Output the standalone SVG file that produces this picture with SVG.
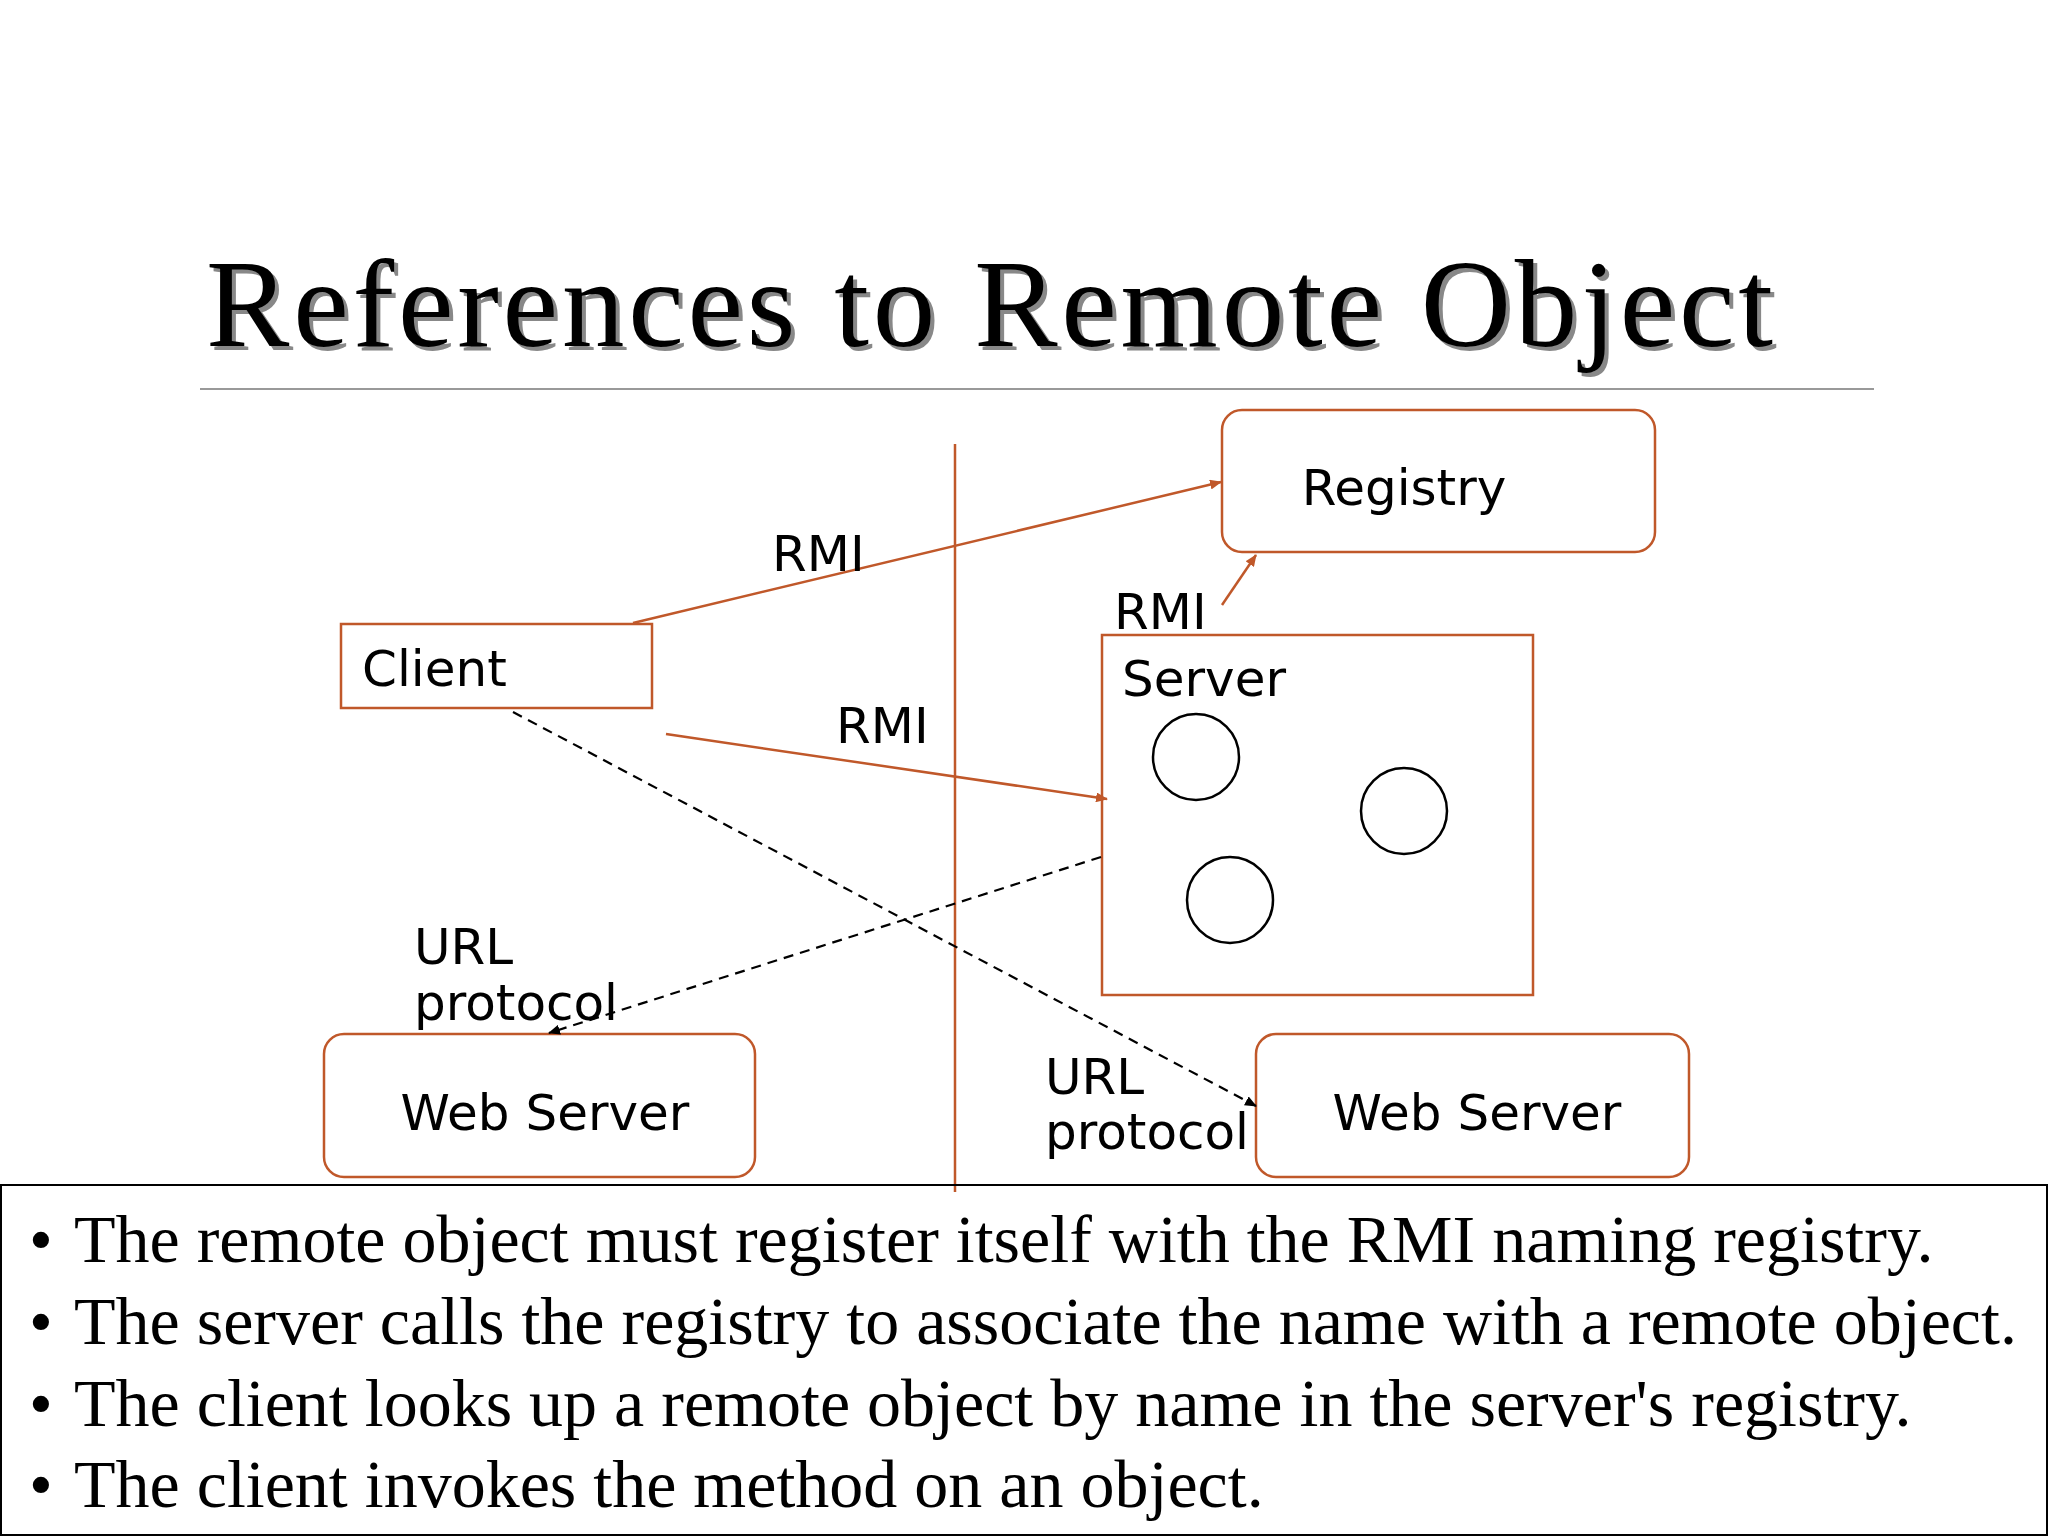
<svg xmlns="http://www.w3.org/2000/svg" width="2048" height="1536" viewBox="0 0 2048 1536">
<style>
.box{fill:none;stroke:#C0582A;stroke-width:2.5}
.lbl{font-family:"DejaVu Sans",Verdana,sans-serif;font-size:50px;fill:#000}
.bul{font-family:"Liberation Serif","Times New Roman",serif;font-size:68px;fill:#000}
.or{stroke:#C0582A;stroke-width:2.5;fill:none}
.dash{stroke:#000;stroke-width:2.2;stroke-dasharray:10,7;fill:none}
.c{fill:none;stroke:#000;stroke-width:2.5}
</style>
<defs>
<marker id="ao" markerWidth="12" markerHeight="10" refX="11" refY="5" orient="auto" markerUnits="userSpaceOnUse" viewBox="0 0 12 10"><path d="M0,0 L12,5 L0,10 z" fill="#C0582A"/></marker>
<marker id="ak" markerWidth="12" markerHeight="10" refX="11" refY="5" orient="auto" markerUnits="userSpaceOnUse" viewBox="0 0 12 10"><path d="M0,0 L12,5 L0,10 z" fill="#000"/></marker>
</defs>
<rect width="2048" height="1536" fill="#fff"/>
<text x="206" y="346" font-family="Liberation Serif,serif" font-size="125" fill="#888" textLength="1567" transform="translate(4,4)">References to Remote Object</text>
<text x="206" y="346" font-family="Liberation Serif,serif" font-size="125" fill="#000" textLength="1567">References to Remote Object</text>
<line x1="200" y1="389" x2="1874" y2="389" stroke="#999" stroke-width="2"/>
<line x1="955" y1="444" x2="955" y2="1192" class="or"/>
<g id="registry"><rect x="1222" y="410" width="433" height="142" rx="20" class="box"/><text x="1404" y="505" class="lbl" text-anchor="middle">Registry</text></g>
<g id="client"><rect x="341" y="624" width="311" height="84" class="box"/><text x="362" y="686" class="lbl">Client</text></g>
<g id="server"><rect x="1102" y="635" width="431" height="360" class="box"/><text x="1122" y="696" class="lbl">Server</text>
<circle cx="1196" cy="757" r="43" class="c"/><circle cx="1404" cy="811" r="43" class="c"/><circle cx="1230" cy="900" r="43" class="c"/></g>
<g id="web1"><rect x="324" y="1034" width="431" height="143" rx="20" class="box"/><text x="545" y="1130" class="lbl" text-anchor="middle">Web Server</text></g>
<g id="web2"><rect x="1256" y="1034" width="433" height="143" rx="20" class="box"/><text x="1477" y="1130" class="lbl" text-anchor="middle">Web Server</text></g>
<g id="connectors">
<line x1="633" y1="623" x2="1221" y2="482" class="or" marker-end="url(#ao)"/>
<line x1="1222" y1="605" x2="1256" y2="555" class="or" marker-end="url(#ao)"/>
<line x1="666" y1="734" x2="1107" y2="799" class="or" marker-end="url(#ao)"/>
<line x1="513" y1="712" x2="1256" y2="1106" class="dash" marker-end="url(#ak)"/>
<line x1="1101" y1="857" x2="549" y2="1033" class="dash" marker-end="url(#ak)"/>
<text x="772" y="571" class="lbl">RMI</text>
<text x="1114" y="629" class="lbl">RMI</text>
<text x="836" y="743" class="lbl">RMI</text>
<text x="414" y="964" class="lbl">URL</text><text x="414" y="1020" class="lbl">protocol</text>
<text x="1045" y="1094" class="lbl">URL</text><text x="1045" y="1149" class="lbl">protocol</text>
</g>
<rect x="1" y="1185" width="2046" height="350" fill="none" stroke="#000" stroke-width="2"/>
<text x="29" y="1262" class="bul">• </text><text x="74" y="1262" class="bul">The remote object must register itself with the RMI naming registry.</text>
<text x="29" y="1344" class="bul">• </text><text x="74" y="1344" class="bul">The server calls the registry to associate the name with a remote object.</text>
<text x="29" y="1426" class="bul">• </text><text x="74" y="1426" class="bul">The client looks up a remote object by name in the server's registry.</text>
<text x="29" y="1507" class="bul">• </text><text x="74" y="1507" class="bul">The client invokes the method on an object.</text>
</svg>
